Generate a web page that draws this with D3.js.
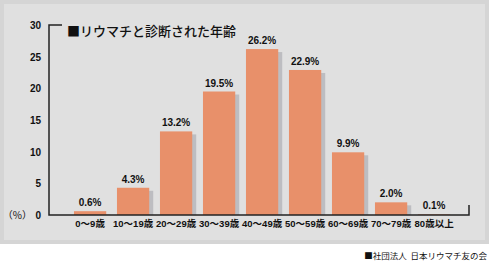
<!DOCTYPE html>
<html><head><meta charset="utf-8">
<script src="https://cdn.jsdelivr.net/npm/d3@7"></script>
<style>html,body{margin:0;padding:0;background:#fff;}svg{display:block;}</style>
</head><body>
<svg id="c" width="492" height="262"></svg>
<script>
const categories = ["0〜9歳","10〜19歳","20〜29歳","30〜39歳","40〜49歳","50〜59歳","60〜69歳","70〜79歳","80歳以上"];
const values = [0.6, 4.3, 13.2, 19.5, 26.2, 22.9, 9.9, 2.0, 0.1];
const valueLabels = ["0.6%","4.3%","13.2%","19.5%","26.2%","22.9%","9.9%","2.0%","0.1%"];
const yTicks = [0, 5, 10, 15, 20, 25, 30];
const title = "■リウマチと診断された年齢";
const source = "■社団法人  日本リウマチ友の会";

const svg = d3.select("#c");
const font = "'Liberation Sans', Arial, 'Noto Sans CJK JP', sans-serif";
const jfont = "'Noto Sans CJK JP', sans-serif";

// panel
svg.append("rect").attr("x",0).attr("y",0).attr("width",489).attr("height",244).attr("fill","#d5d5d5");
svg.append("rect").attr("x",4).attr("y",4).attr("width",481).attr("height",236).attr("fill","#e0e0e0");

const x = d3.scaleBand().domain(categories).range([68.6, 455.6]).paddingInner(0.25).paddingOuter(0.125);
const y = d3.scaleLinear().domain([0, 30]).range([215, 25]);

// shadows
svg.append("g").selectAll("rect").data(values).join("rect")
  .attr("x", (d,i) => x(categories[i]) + 4)
  .attr("y", d => y(d) + 3)
  .attr("width", x.bandwidth())
  .attr("height", d => Math.max(0, y(0) - y(d) - 3))
  .attr("fill", "#bdbdc1");
// bars
svg.append("g").selectAll("rect").data(values).join("rect")
  .attr("x", (d,i) => x(categories[i]))
  .attr("y", d => y(d))
  .attr("width", x.bandwidth())
  .attr("height", d => y(0) - y(d))
  .attr("fill", "#e8906a");

// value labels
svg.append("g").selectAll("text").data(values).join("text")
  .attr("x", (d,i) => x(categories[i]) + x.bandwidth()/2)
  .attr("y", d => y(d) - 5)
  .attr("text-anchor","middle")
  .attr("font-family", font).attr("font-weight","bold").attr("font-size", 10)
  .attr("fill","#111")
  .text((d,i) => valueLabels[i]);

// axes lines
svg.append("path").attr("d", `M62,${y(30)}H49V${y(0)}H469V${y(0)-10}`)
  .attr("fill","none").attr("stroke","#222").attr("stroke-width",1.5);

// y tick labels
const yAxis = d3.axisLeft(y).tickValues(yTicks).tickSize(0).tickPadding(0);
const gy = svg.append("g").attr("transform","translate(41,0)").call(yAxis);
gy.select(".domain").remove();
gy.selectAll("text").attr("font-family", font).attr("font-weight","bold").attr("font-size", 10).attr("fill","#111").attr("dy","0.35em");
svg.append("text").attr("x", 32).attr("y", y(0)).attr("dy","0.35em").attr("text-anchor","end")
  .attr("font-family", jfont).attr("font-size", 10).attr("fill","#111").text("（%）");

// x labels
const xAxis = d3.axisBottom(x).tickSize(0).tickPadding(0);
const gx = svg.append("g").attr("transform", `translate(0,${y(0)+9})`).call(xAxis);
gx.select(".domain").remove();
gx.selectAll("text").attr("font-family", font).attr("font-weight","bold").attr("font-size", 9.5).attr("fill","#111").attr("dy","0.35em").attr("y",0);

// title
svg.append("text").attr("x", 67).attr("y", 36).attr("font-family", jfont).attr("font-weight", 500)
  .attr("font-size", 13).attr("fill","#111").text(title);

// source
svg.append("text").attr("x", 487).attr("y", 259).attr("text-anchor","end").attr("font-family", jfont)
  .attr("font-size", 8.5).attr("fill","#111").attr("xml:space","preserve").style("white-space","pre").text(source);
</script>
</body></html>
